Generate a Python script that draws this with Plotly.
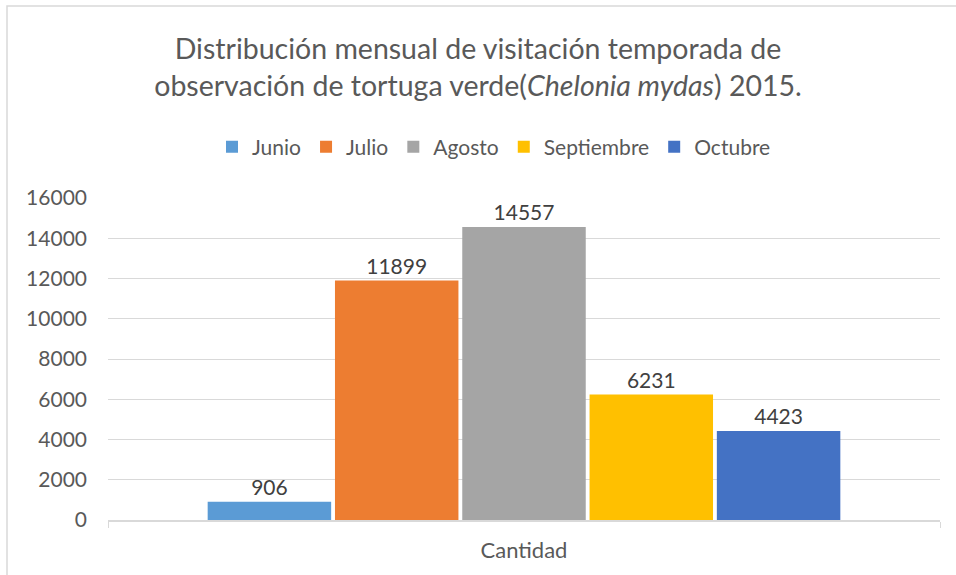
import plotly.graph_objects as go

category = ["Cantidad"]
months = ["Junio", "Julio", "Agosto", "Septiembre", "Octubre"]
values = [906, 11899, 14557, 6231, 4423]
colors = ["#5B9BD5", "#ED7D31", "#A5A5A5", "#FFC000", "#4472C4"]
y_ticks = [0, 2000, 4000, 6000, 8000, 10000, 12000, 14000, 16000]

W, H = 956, 575
L, R, T, B = 108, 16, 198, 55
pw, ph = W - L - R, H - T - B

fig = go.Figure()
for m, v, c in zip(months, values, colors):
    fig.add_trace(go.Bar(
        x=category, y=[v], name=m,
        marker=dict(color=c, line=dict(width=0)),
        text=[str(v)], textposition="outside",
        textfont=dict(size=21, color="#404040"),
        cliponaxis=False,
    ))

fig.update_layout(
    width=W, height=H,
    font=dict(family="Lato, sans-serif", color="#595959"),
    paper_bgcolor="white", plot_bgcolor="white",
    margin=dict(l=L, r=R, t=T, b=B),
    barmode="group", bargap=0.235, bargroupgap=0.03,
    title=dict(
        text="Distribución mensual de visitación temporada de<br>"
             "observación de tortuga verde(<i>Chelonia mydas</i>) 2015.",
        x=0.5, xanchor="center", y=1 - 59 / H, yanchor="middle",
        font=dict(size=28.5, color="#595959"),
    ),
    legend=dict(
        orientation="h", x=(494 - L) / pw, xanchor="center",
        y=1 + (520 - 147 - ph) / ph, yanchor="middle",
        font=dict(size=21, color="#595959"),
        traceorder="normal",
    ),
    showlegend=True,
)

fig.update_yaxes(
    range=[0, 16000], tickvals=y_ticks, ticktext=[str(t) for t in y_ticks],
    showgrid=True, gridcolor="#D9D9D9", gridwidth=1,
    zeroline=False, showline=False,
    tickfont=dict(size=21, color="#595959"),
    ticks="", ticklabelstandoff=20,
)
fig.update_xaxes(
    showline=True, linecolor="#D9D9D9", linewidth=1.5,
    ticks="outside", tickson="boundaries", ticklen=6, tickcolor="#D9D9D9",
    tickfont=dict(size=22, color="#595959"), ticklabelstandoff=10,
    showgrid=False,
)

# outer chart border (extends past the right and bottom edges)
fig.add_shape(
    type="rect", xref="paper", yref="paper",
    x0=(7 - L) / pw, x1=(W + 20 - L) / pw,
    y0=-(B + 20) / ph, y1=1 + (T - 6) / ph,
    line=dict(color="#D9D9D9", width=1.5), fillcolor="rgba(0,0,0,0)",
    layer="below",
)

fig.write_html("out.html", config={"displayModeBar": False},
               post_script="document.body.style.margin='0';")
